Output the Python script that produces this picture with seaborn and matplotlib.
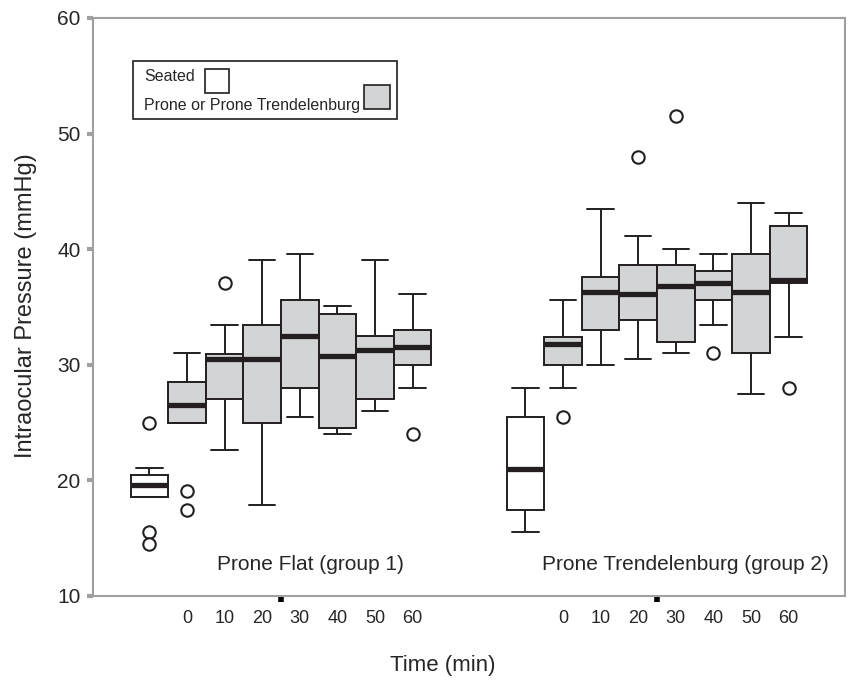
import numpy as np
import pandas as pd
import matplotlib
matplotlib.use('Agg')
import matplotlib.pyplot as plt
from matplotlib.patches import Rectangle
import seaborn as sns

# time points (min)
times = [0, 10, 20, 30, 40, 50, 60]
groups = ['Prone Flat (group 1)', 'Prone Trendelenburg (group 2)']

# seated box stats per group: low whisker, q1, median, q3, high whisker
seated_lo = [18.6, 15.5]
seated_q1 = [18.6, 17.4]
seated_med = [19.6, 21.0]
seated_q3 = [20.5, 25.5]
seated_hi = [21.1, 28.0]
seated_out = [[25.0, 15.5, 14.5], []]

# prone boxes, group 1
g1_lo = [25.0, 22.6, 17.9, 25.5, 24.0, 26.0, 28.0]
g1_q1 = [25.0, 27.0, 25.0, 28.0, 24.5, 27.0, 30.0]
g1_med = [26.5, 30.5, 30.5, 32.5, 30.8, 31.3, 31.5]
g1_q3 = [28.5, 30.9, 33.4, 35.6, 34.4, 32.5, 33.0]
g1_hi = [31.0, 33.4, 39.1, 39.6, 35.1, 39.1, 36.1]
g1_out = [[19.1, 17.4], [37.1], [], [], [], [], [24.0]]

# prone boxes, group 2
g2_lo = [28.0, 30.0, 30.5, 31.0, 33.4, 27.5, 32.4]
g2_q1 = [30.0, 33.0, 33.9, 32.0, 35.6, 31.0, 37.1]
g2_med = [31.8, 36.3, 36.1, 36.8, 37.1, 36.3, 37.3]
g2_q3 = [32.4, 37.6, 38.6, 38.6, 38.1, 39.6, 42.0]
g2_hi = [35.6, 43.5, 41.1, 40.0, 39.6, 44.0, 43.1]
g2_out = [[25.5], [], [48.0], [51.5], [31.0], [], [28.0]]

# build a long table: 5 values per box reproduce the drawn quartiles
rows = []
outs = []
prone = [(g1_lo, g1_q1, g1_med, g1_q3, g1_hi, g1_out),
         (g2_lo, g2_q1, g2_med, g2_q3, g2_hi, g2_out)]
for g in range(2):
    base = g * 10
    for v in (seated_lo[g], seated_q1[g], seated_med[g], seated_q3[g], seated_hi[g]):
        rows.append((base, v, 'Seated'))
    for o in seated_out[g]:
        outs.append((base, o))
    lo, q1, med, q3, hi, out = prone[g]
    for i in range(len(times)):
        for v in (lo[i], q1[i], med[i], q3[i], hi[i]):
            rows.append((base + i + 1, v, 'Prone'))
        for o in out[i]:
            outs.append((base + i + 1, o))
df = pd.DataFrame(rows, columns=['pos', 'iop', 'posture'])
df_out = pd.DataFrame(outs, columns=['pos', 'iop'])

sns.set_style('white')
plt.rcParams['font.family'] = ['Liberation Sans', 'DejaVu Sans']

fig = plt.figure(figsize=(8.51, 6.84), dpi=100)
ax = fig.add_axes([0.1093, 0.1287, 0.8837, 0.845])

dark = '#231f20'
grey_fill = '#d3d4d6'
sns.boxplot(data=df, x='pos', y='iop', hue='posture',
            palette={'Seated': 'white', 'Prone': grey_fill},
            native_scale=True, dodge=False, width=1.0, whis=(0, 100),
            linecolor=dark, linewidth=1.4, legend=False, capwidths=0.7,
            medianprops=dict(linewidth=3.8, color=dark), ax=ax)
sns.scatterplot(data=df_out, x='pos', y='iop', marker='o', s=80,
                facecolor='white', edgecolor=dark, linewidth=1.5,
                legend=False, ax=ax, zorder=5)

ax.set_xlim(-1.5, 18.5)
ax.set_ylim(10, 60)
ax.set_yticks([10, 20, 30, 40, 50, 60])
ax.tick_params(axis='y', length=4, width=3, color='#a0a0a0', labelsize=15,
               pad=5, left=True)

# group ticks and time labels
ax.set_xticks([3.5, 13.5])
ax.set_xticklabels(['', ''])
ax.tick_params(axis='x', which='major', length=4, width=4, color='black',
               bottom=True, direction='out')
ax.set_xticks([g * 10 + i + 1 for g in range(2) for i in range(len(times))],
              minor=True)
ax.set_xticklabels([str(t) for g in range(2) for t in times], minor=True)
ax.tick_params(axis='x', which='minor', length=0, labelsize=13, pad=10)

for sp in ax.spines.values():
    sp.set_color('#a0a0a0')
    sp.set_linewidth(1.5)


# legend box drawn by hand in axes fractions
def fx(px):
    return (px - 93) / 752


def fy(py):
    return (596 - py) / 578


ax.set_xlabel('Time (min)', fontsize=16)
ax.xaxis.set_label_coords(fx(443), fy(655))
ax.set_ylabel('Intraocular Pressure (mmHg)', fontsize=17)
ax.yaxis.set_label_coords(fx(37), fy(306))

ax.text(4.27, 12.7, groups[0], fontsize=15, ha='center', va='center')
ax.text(14.25, 12.7, groups[1], fontsize=15, ha='center', va='center')

ax.add_patch(Rectangle((fx(133), fy(119)), fx(397) - fx(133), fy(61) - fy(119),
                       transform=ax.transAxes, facecolor='white',
                       edgecolor=dark, linewidth=1.2, zorder=6))
ax.text(fx(144), fy(77), 'Seated', transform=ax.transAxes, fontsize=11.5,
        va='center', ha='left', zorder=7)
ax.add_patch(Rectangle((fx(205), fy(93)), fx(229) - fx(205), fy(69) - fy(93),
                       transform=ax.transAxes, facecolor='white',
                       edgecolor=dark, linewidth=1.2, zorder=7))
ax.text(fx(144), fy(106), 'Prone or Prone Trendelenburg', transform=ax.transAxes,
        fontsize=11.5, va='center', ha='left', zorder=7)
ax.add_patch(Rectangle((fx(364), fy(109)), fx(390) - fx(364), fy(85) - fy(109),
                       transform=ax.transAxes, facecolor=grey_fill,
                       edgecolor=dark, linewidth=1.2, zorder=7))

fig.savefig('out.png', dpi=100)
